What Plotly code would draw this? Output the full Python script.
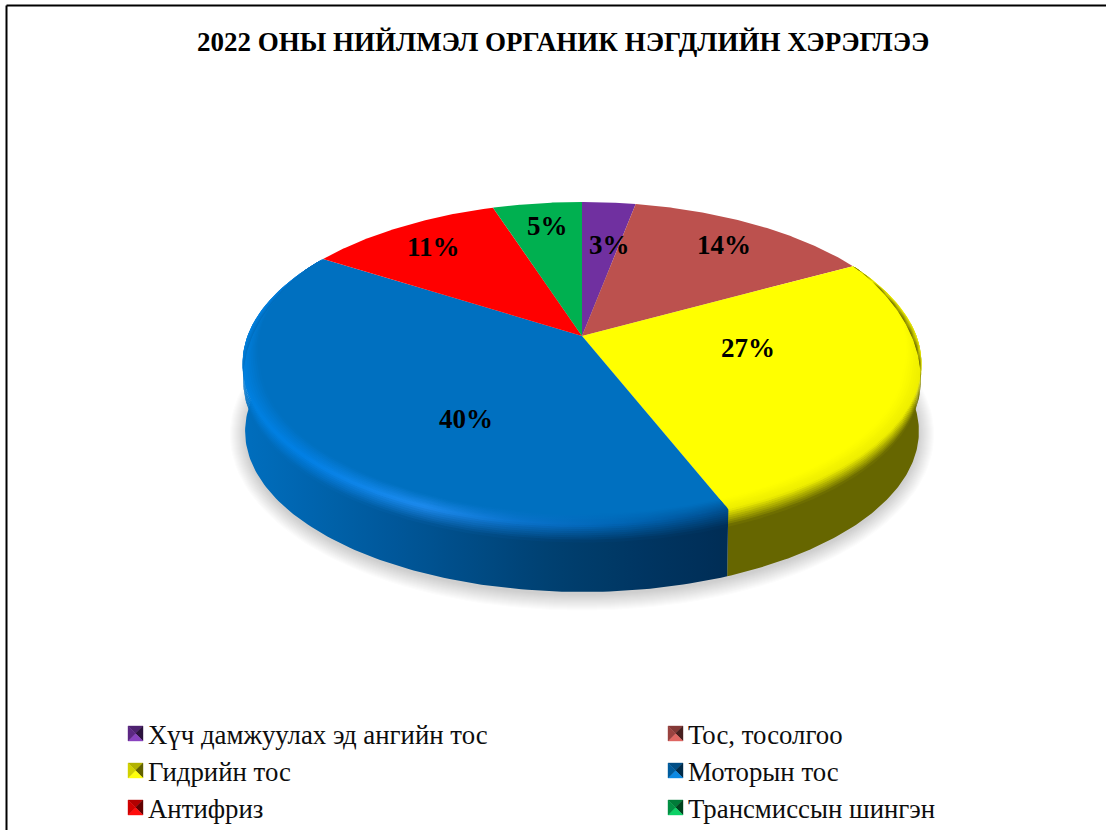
import numpy as np
import plotly.graph_objects as go

# Chart data
TITLE = "2022 ОНЫ НИЙЛМЭЛ ОРГАНИК НЭГДЛИЙН ХЭРЭГЛЭЭ"
CATEGORIES = ["Хүч дамжуулах эд ангийн тос", "Тос, тосолгоо", "Гидрийн тос",
              "Моторын тос", "Антифриз", "Трансмиссын шингэн"]
SHARES = [3, 14, 27, 40, 11, 5]
COLORS = ["#7030A0", "#BC514E", "#FFFF00", "#0070C0", "#FF0000", "#00B050"]

# Page-pixel placement of the percent labels and legend rows
LABEL_XY = [(609, 245), (724, 245), (748, 348), (466, 419), (433, 247), (547, 226)]
LEGEND_ROWS = [726, 763, 800]
LEGEND_COLS = [128, 668]
SWATCH = 15

# Perspective model of the disc: apex position, half-axes and foreshortening
APEX_X, APEX_Y = 582.0, 336.0
AX, BY, K = 334.5, 156.8, 0.17
FLOOR_Y, FLOOR_AX, FLOOR_BY = 404.0, 332.0, 156.0


def rim(theta, r=1.0, floor=False):
    """Screen position of a disc point; theta in degrees clockwise from the top."""
    t = np.radians(theta)
    u, v = r * np.sin(t), r * np.cos(t)
    d = 1 + K * v
    if floor:
        return APEX_X + FLOOR_AX * u / d, FLOOR_Y - FLOOR_BY * v / d
    return APEX_X + AX * u / d, APEX_Y - BY * v / d


def front(theta):
    """0 at the back of the disc, 1 on its front-facing part."""
    return np.clip((0.45 - np.cos(np.radians(theta))) / 0.65, 0, 1)


def mix(a, b, s):
    return tuple(a[i] + (b[i] - a[i]) * s for i in range(3))


def rgb(c):
    return "rgb(%d,%d,%d)" % tuple(round(x) for x in c)


def ramp(x, stops):
    xs = [p[0] for p in stops]
    return tuple(np.interp(x, xs, [p[1][i] for p in stops]) for i in range(3))


BLUE_WALL = [(245, (0, 110, 190)), (430, (0, 82, 145)), (563, (0, 62, 110)), (730, (0, 45, 85))]
BLUE_GLOW = [(245, (0, 128, 224)), (300, (0, 128, 230)), (420, (30, 140, 240)),
             (520, (10, 115, 205)), (620, (0, 100, 180)), (730, (0, 80, 145))]
YELLOW_WALL = [(0, (102, 102, 0)), (1106, (102, 102, 0))]
YELLOW_GLOW = [(0, (238, 238, 0)), (1106, (238, 238, 0))]
FACE = {2: (255, 255, 0), 3: (0, 112, 192)}
WALL = {2: YELLOW_WALL, 3: BLUE_WALL}
GLOW = {2: YELLOW_GLOW, 3: BLUE_GLOW}

edges = np.cumsum([0] + SHARES) / sum(SHARES) * 360.0


def poly(fig, xs, ys, color, edge=0.0):
    fig.add_trace(go.Scatter(x=list(xs), y=list(ys), mode="lines", fill="toself", fillcolor=color,
                             line=dict(color=color, width=edge), hoverinfo="skip",
                             showlegend=False))


def shaded_poly(fig, xs, ys, color_at):
    """Filled polygon whose colour varies left to right according to color_at(x)."""
    xs, ys = np.asarray(xs), np.asarray(ys)
    lo, hi = float(xs.min()), float(xs.max())
    scale = [[f, rgb(color_at(lo + (hi - lo) * f))] for f in np.linspace(0, 1, 17)]
    fig.add_trace(go.Scatter(x=list(xs), y=list(ys), mode="lines", fill="toself",
                             fillgradient=dict(type="horizontal", colorscale=scale),
                             line=dict(width=0), hoverinfo="skip", showlegend=False))


fig = go.Figure()

# Soft ground shadow under the disc
full = np.linspace(0, 360, 181)
for grow in range(15, -1, -1):
    fx, fy = rim(full, floor=True)
    cx, cy = APEX_X, FLOOR_Y + 26
    sx = (FLOOR_AX + grow) / FLOOR_AX
    sy = (FLOOR_BY + grow) / FLOOR_BY
    poly(fig, cx + (fx - cx) * sx, cy + (fy - cy) * sy + 3, "rgba(90,90,90,0.015)")

# Outer wall, shaded along its length
for i in (2, 3):
    arc = np.linspace(max(edges[i], 85), min(edges[i + 1], 275), 120)
    tx, ty = rim(arc)
    bx, by = rim(arc[::-1], floor=True)
    shaded_poly(fig, np.r_[tx, bx], np.r_[ty, by], lambda x, w=WALL[i]: ramp(x, w))

# Top face, one wedge per category
for i, name in enumerate(CATEGORIES):
    arc = np.linspace(edges[i], edges[i + 1], 100)
    ax, ay = rim(arc)
    poly(fig, np.r_[APEX_X, ax], np.r_[APEX_Y, ay], COLORS[i])
    fig.data[-1].name = name


def band_point(theta, s):
    # s runs from -1 on the face, through 0 on the rim, to 1 on the wall
    w = front(theta)
    if s <= 0:
        return rim(theta, 1 + s * 0.05 * w)
    x, y = rim(theta)
    fx, fy = rim(theta, floor=True)
    reach = s * 0.25 * w
    return x + (fx - x) * reach, y + (fy - y) * reach


# Bevel between top face and wall, drawn as thin strips across its width
grid = np.linspace(-1, 1, 17)
for i in (2, 3):
    arc = np.linspace(max(edges[i], 60), min(edges[i + 1], 303), 140)
    for s0, s1 in zip(grid[:-1], grid[1:]):
        over = s1 + (s1 - s0) * 0.4
        ax, ay = band_point(arc, s0)
        bx, by = band_point(arc[::-1], over)
        sm = (s0 + s1) / 2

        def strip_color(x, sm=sm, i=i):
            glow = ramp(x, GLOW[i])
            if sm < 0:
                return mix(FACE[i], glow, 1 + sm)
            return mix(glow, ramp(x, WALL[i]), sm)

        shaded_poly(fig, np.r_[ax, bx], np.r_[ay, by], strip_color)

# Percent labels
annotations = []
for share, (lx, ly) in zip(SHARES, LABEL_XY):
    annotations.append(dict(x=lx, y=ly, xref="x", yref="y", text=f"<b>{share}%</b>", showarrow=False,
                            font=dict(family="Liberation Serif", size=27, color="black")))

# Title
annotations.append(dict(x=563, y=42, xref="x", yref="y", text=f"<b>{TITLE}</b>", showarrow=False,
                        font=dict(family="Liberation Serif", size=27, color="black")))

# Legend: bevelled swatch and label, two columns by three rows
shapes = []
BEVEL = {"top": 0.70, "left": 0.82, "right": 0.38, "bottom": 1.12}
for idx, name in enumerate(CATEGORIES):
    x0 = LEGEND_COLS[idx % 2]
    y0 = LEGEND_ROWS[idx // 2]
    x1, y1, mx, my = x0 + SWATCH, y0 + SWATCH, x0 + SWATCH / 2, y0 + SWATCH / 2
    base = tuple(int(COLORS[idx][j:j + 2], 16) for j in (1, 3, 5))
    sides = {"top": [(x0, y0), (x1, y0)], "right": [(x1, y0), (x1, y1)],
             "bottom": [(x1, y1), (x0, y1)], "left": [(x0, y1), (x0, y0)]}
    for side, ((ax, ay), (bx, by)) in sides.items():
        shade = tuple(min(255, c * BEVEL[side] + (12 if BEVEL[side] > 1 else 0)) for c in base)
        shapes.append(dict(type="path", xref="x", yref="y", layer="above",
                           path=f"M{ax},{ay} L{bx},{by} L{mx},{my} Z",
                           fillcolor=rgb(shade), line=dict(color=rgb(shade), width=0.4)))
    annotations.append(dict(x=x0 + SWATCH + 2.5, y=y0 + SWATCH / 2 + 1, xref="x", yref="y", xanchor="left",
                            text=name, showarrow=False,
                            font=dict(family="Liberation Serif", size=26.8, color="#0d0d0d")))

# Chart frame
for x0, y0, x1, y1 in [(6.5, 5.5, 1106, 5.5), (6.5, 5.5, 6.5, 830)]:
    shapes.append(dict(type="line", xref="x", yref="y", x0=x0, y0=y0, x1=x1, y1=y1,
                       line=dict(color="black", width=2)))

fig.update_layout(
    width=1106, height=830, margin=dict(l=0, r=0, t=0, b=0),
    paper_bgcolor="white", plot_bgcolor="white", showlegend=False,
    xaxis=dict(range=[0, 1106], visible=False, fixedrange=True),
    yaxis=dict(range=[830, 0], visible=False, fixedrange=True),
    annotations=annotations, shapes=shapes,
)
fig.write_html("out.html", config={"displayModeBar": False})
